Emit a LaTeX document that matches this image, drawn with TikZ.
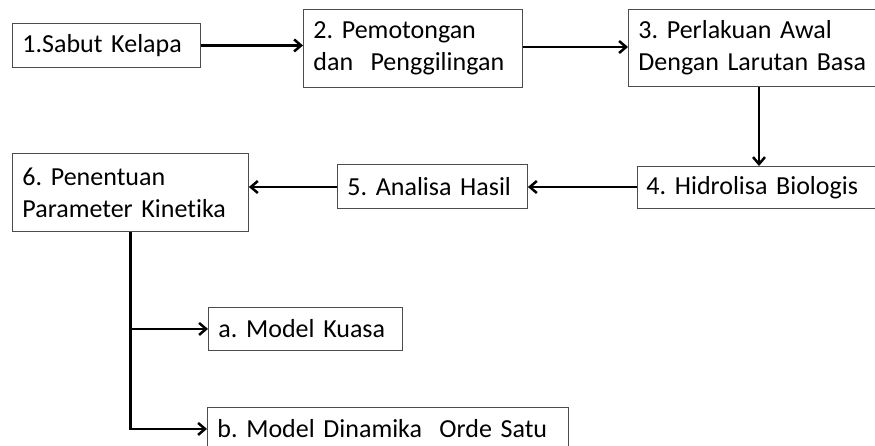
\documentclass[tikz,border=0pt]{standalone}
\usepackage{fontspec}
\setmainfont{Carlito}[Ligatures=NoCommon]
\usetikzlibrary{arrows.meta}
\frenchspacing
\begin{document}
\begin{tikzpicture}[x=1pt,y=-1pt,
  box/.style n args={3}{draw=black!70, line width=0.9pt, anchor=north west,
    minimum width=#1pt, text width=#2pt, minimum height=#3pt,
    inner xsep=10pt, inner ysep=0pt, align=left,
    font=\fontsize{26}{32}\selectfont\frenchspacing},
  conn/.style={line width=2.5pt, -{Straight Barb[length=7pt,width=12pt]}}]
\useasboundingbox (0,0) rectangle (875,445);
\clip (0,0) rectangle (875,445);
\node[box={188}{168}{44}] (b1) at (12,23) {\mbox{1.Sabut Kelapa}};
\node[box={219}{199}{78}] (b2) at (303,9) {\mbox{2. Pemotongan}\\\mbox{dan~~Penggilingan}};
\node[box={270}{250}{77}] (b3) at (628,9) {\mbox{3. Perlakuan Awal}\\\mbox{Dengan Larutan Basa}};
\node[box={250}{232}{42}, inner xsep=9pt] (b4) at (637,166) {\mbox{4. Hidrolisa Biologis}};
\node[box={190}{170}{44}] (b5) at (337,164) {\mbox{5. Analisa Hasil}};
\node[box={236}{216}{78}] (b6) at (12,153) {\mbox{6. Penentuan}\\\mbox{Parameter Kinetika}};
\node[box={194}{174}{43}] (ba) at (208,307) {\mbox{a. Model Kuasa}};
\node[box={361}{341}{43}] (bb) at (207,407) {\mbox{b. Model Dinamika~~Orde Satu}};
\draw[conn] (b1.east) -- (b1.east -| b2.west);
\draw[conn] (b2.east |- 0,47) -- (b3.west |- 0,47);
\draw[conn] (b3.south -| 759,0) -- (b4.north -| 759,0);
\draw[conn] (b4.west |- 0,187) -- (b5.east |- 0,187);
\draw[conn] (b5.west |- 0,187) -- (b6.east |- 0,187);
\draw[conn] (b6.south) |- (bb.west);
\draw[conn] (b6.south |- ba.west) -- (ba.west);
\end{tikzpicture}
\end{document}
